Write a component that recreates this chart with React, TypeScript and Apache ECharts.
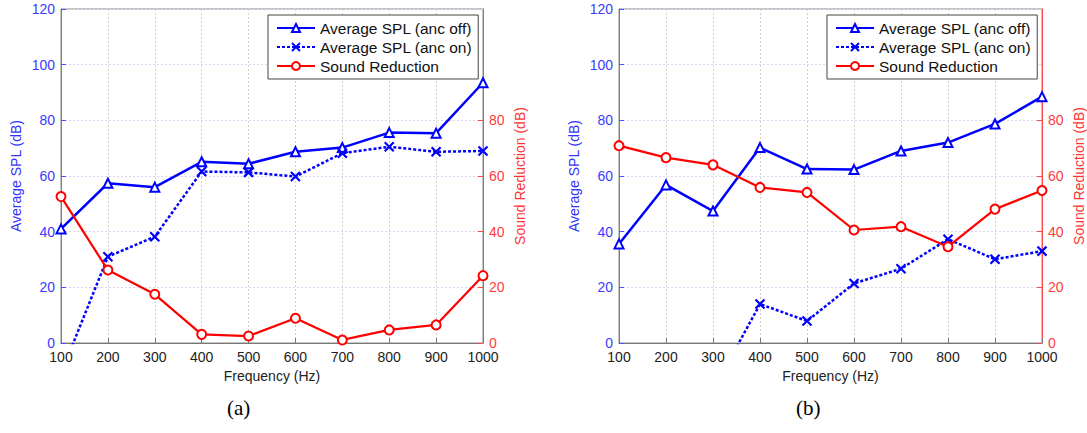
import React, { useEffect, useRef } from "react";
import * as echarts from "echarts";

const freqs = [100, 200, 300, 400, 500, 600, 700, 800, 900, 1000];

// chart (a)
const aOff = [41, 57.4, 56, 65.1, 64.4, 68.7, 70.2, 75.6, 75.4, 93.5];
const aOn = [-11, 31, 38.2, 61.6, 61.3, 59.8, 68.2, 70.5, 68.7, 69];
const aRed = [52.6, 26.2, 17.5, 3.1, 2.5, 8.9, 1.1, 4.7, 6.5, 24.2];

// chart (b)
const bOff = [35.6, 56.8, 47.4, 70.2, 62.5, 62.3, 69, 72, 78.7, 88.5];
const bOn = [null, null, -17, 14, 7.9, 21.4, 26.7, 37.3, 30.1, 33];
const bRed = [70.9, 66.6, 64, 55.9, 54.1, 40.6, 41.8, 34.6, 48.1, 54.8];

const leftTicks = [0, 20, 40, 60, 80, 100, 120];
const rightTicks = [0, 20, 40, 60, 80];

const NAME_OFF = "Average SPL (anc off)";
const NAME_ON = "Average SPL (anc on)";
const NAME_RED = "Sound Reduction";

const BLUE = "#0000ff";
const RED = "#ff0000";
const FONT = "'Liberation Sans', Arial, sans-serif";

const pairs = (vals: (number | null)[]) => freqs.map((f, i) => [f, vals[i]]);

export default function App() {
  const ref = useRef<HTMLDivElement>(null);
  useEffect(() => {
    const chart = echarts.init(ref.current!, null, { renderer: "svg" });
    const grids = [
      { left: 61, right: 604, top: 9, bottom: 90 },
      { left: 619, right: 45, top: 9, bottom: 90 },
    ].map((g) => ({ ...g, show: true, borderColor: "#8a8a8a", borderWidth: 1, backgroundColor: "transparent" }));

    const xAxes = [0, 1].map((gi) => ({
      type: "value",
      gridIndex: gi,
      min: 100,
      max: 1000,
      interval: 100,
      name: "Frequency (Hz)",
      nameLocation: "middle",
      nameGap: 24,
      nameTextStyle: { color: "#222", fontSize: 14, fontFamily: FONT },
      axisLine: { lineStyle: { color: "#777", width: 1 } },
      axisTick: { inside: true, length: 5, lineStyle: { color: "#777" } },
      axisLabel: { color: "#222", fontSize: 14, fontFamily: FONT, margin: 7, formatter: (v: number) => String(v) },
      splitLine: { show: true, lineStyle: { color: "#cfcfcf", type: [2, 2], width: 1 } },
    }));

    const yAxes: any[] = [];
    [0, 1].forEach((gi) => {
      yAxes.push({
        type: "value",
        gridIndex: gi,
        position: "left",
        min: 0,
        max: 120,
        interval: 20,
        name: "Average SPL (dB)",
        nameLocation: "middle",
        nameGap: 38,
        nameTextStyle: { color: "#3333ff", fontSize: 14, fontFamily: FONT },
        axisLine: { show: true, lineStyle: { color: "#7070ff", width: 1 } },
        axisTick: { inside: true, length: 5, customValues: leftTicks, lineStyle: { color: "#5050ff" } },
        axisLabel: { color: "#3b3bff", fontSize: 14, fontFamily: FONT, margin: 6, customValues: leftTicks, lineHeight: 12 },
        splitLine: { show: true, lineStyle: { color: "#d6d6f2", type: [2, 2], width: 1 } },
      });
      yAxes.push({
        type: "value",
        gridIndex: gi,
        position: "right",
        min: 0,
        max: 120,
        interval: 20,
        name: "Sound Reduction (dB)",
        nameLocation: "middle",
        nameGap: 30,
        nameRotate: 90,
        nameTextStyle: { color: "#ff3333", fontSize: 14, fontFamily: FONT },
        axisLine: { show: true, lineStyle: { color: "#ff4a4a", width: 1 } },
        axisTick: { inside: true, length: 5, customValues: rightTicks, lineStyle: { color: "#ff4a4a" } },
        axisLabel: {
          color: "#ff3b3b",
          fontSize: 14,
          fontFamily: FONT,
          margin: 6,
          lineHeight: 12,
          customValues: rightTicks,
          formatter: (v: number) => (v > 80 ? "" : String(v)),
        },
        splitLine: { show: false },
      });
    });

    const mkSeries = (gi: number, off: any[], on: any[], red: any[]) => [
      {
        name: NAME_OFF,
        type: "line",
        xAxisIndex: gi,
        yAxisIndex: gi * 2,
        data: pairs(off),
        symbol: "triangle",
        symbolSize: 9,
        lineStyle: { color: BLUE, width: 2.5 },
        itemStyle: { color: "#ffffff", borderColor: BLUE, borderWidth: 2 },
        clip: true,
        z: 3,
      },
      {
        name: NAME_ON,
        type: "line",
        xAxisIndex: gi,
        yAxisIndex: gi * 2,
        data: pairs(on),
        symbol: "path://M0,0L10,10M10,0L0,10",
        symbolSize: 9,
        lineStyle: { color: BLUE, width: 2.5, type: [3, 2] },
        itemStyle: { color: BLUE, borderColor: BLUE, borderWidth: 2.2 },
        clip: true,
        z: 3,
      },
      {
        name: NAME_RED,
        type: "line",
        xAxisIndex: gi,
        yAxisIndex: gi * 2 + 1,
        data: pairs(red),
        symbol: "emptyCircle",
        symbolSize: 9,
        lineStyle: { color: RED, width: 2.2 },
        itemStyle: { color: RED, borderColor: RED, borderWidth: 1.8 },
        clip: true,
        z: 4,
      },
    ];

    const legend = (left: number) => ({
      left,
      top: 15,
      orient: "vertical",
      data: [NAME_OFF, NAME_ON, NAME_RED],
      backgroundColor: "#ffffff",
      borderColor: "#444",
      borderWidth: 1,
      padding: [4, 6, 4, 8],
      itemGap: 1,
      itemWidth: 38,
      itemHeight: 10,
      selectedMode: false,
      textStyle: { color: "#111", fontSize: 15.5, fontFamily: FONT, lineHeight: 18 },
    });

    chart.setOption({
      animation: false,
      backgroundColor: "#ffffff",
      grid: grids,
      xAxis: xAxes,
      yAxis: yAxes,
      legend: [legend(268), legend(827)],
      series: [...mkSeries(0, aOff, aOn, aRed), ...mkSeries(1, bOff, bOn, bRed)],
      graphic: [
        { type: "text", left: 227, top: 397, style: { text: "(a)", font: "21px 'Liberation Serif', 'Times New Roman', serif", fill: "#000" } },
        { type: "text", left: 796, top: 397, style: { text: "(b)", font: "21px 'Liberation Serif', 'Times New Roman', serif", fill: "#000" } },
      ],
    });
    return () => chart.dispose();
  }, []);
  return <div ref={ref} style={{ position: "fixed", left: 0, top: 0, width: 1087, height: 433 }} />;
}
